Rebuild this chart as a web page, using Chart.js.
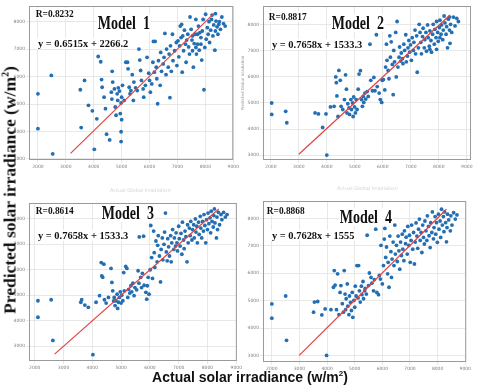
<!DOCTYPE html>
<html>
<head>
<meta charset="utf-8">
<script src="https://cdn.jsdelivr.net/npm/chart.js@4.4.1/dist/chart.umd.min.js"></script>
<style>
  body { margin: 0; background: #fff; }
  #wrap { position: relative; width: 480px; height: 391px; overflow: hidden; background: #fff; }
  canvas { position: absolute; }
  .t { position: absolute; font-family: "Liberation Serif", "Times New Roman", serif; font-weight: bold;
       white-space: nowrap; line-height: 1; color: #111; background: #fff; padding: 0 1px; transform-origin: 0 0; }
  .faint { position: absolute; font-family: "DejaVu Sans", sans-serif; font-size: 5px; color: #d4d4d4; white-space: nowrap; }
</style>
</head>
<body>
<div id="wrap">
  <canvas id="c1"></canvas>
  <canvas id="c2"></canvas>
  <canvas id="c3"></canvas>
  <canvas id="c4"></canvas>

  <div class="t" style="left:35px;top:8px;font-size:11px;transform:scaleX(0.85)">R=0.8232</div>
  <div class="t" style="left:97px;top:14px;font-size:18px;transform:scaleX(0.78)">Model&nbsp; 1</div>
  <div class="t" style="left:37px;top:38px;font-size:11px;transform:scaleX(0.95)">y = 0.6515x + 2266.2</div>

  <div class="t" style="left:268px;top:11px;font-size:11px;transform:scaleX(0.85)">R=0.8817</div>
  <div class="t" style="left:331px;top:14px;font-size:18px;transform:scaleX(0.78)">Model&nbsp; 2</div>
  <div class="t" style="left:271px;top:39px;font-size:11px;transform:scaleX(0.95)">y = 0.7658x + 1533.3</div>

  <div class="t" style="left:35px;top:205px;font-size:11px;transform:scaleX(0.85)">R=0.8614</div>
  <div class="t" style="left:101px;top:204px;font-size:18px;transform:scaleX(0.78)">Model&nbsp; 3</div>
  <div class="t" style="left:37px;top:230px;font-size:11px;transform:scaleX(0.95)">y = 0.7658x + 1533.3</div>

  <div class="t" style="left:266px;top:205px;font-size:11px;transform:scaleX(0.85)">R=0.8868</div>
  <div class="t" style="left:339px;top:208px;font-size:18px;transform:scaleX(0.78)">Model&nbsp; 4</div>
  <div class="t" style="left:271px;top:230px;font-size:11px;transform:scaleX(0.95)">y = 0.7628x + 1555</div>

  <div class="faint" style="left:110px;top:187px">Actual Global Irradiation</div>
  <div class="faint" style="left:337px;top:185px">Actual Global Irradiation</div>

  <div style="position:absolute;left:10px;top:190px;transform:translate(-50%,-50%) rotate(-90deg);
              font-family:'Liberation Serif',serif;font-weight:bold;font-size:17.5px;white-space:nowrap;color:#111">
    Predicted solar irradiance (w/m<sup style="font-size:10px">2</sup>)</div>
  <div style="position:absolute;left:250px;top:377px;transform:translate(-50%,-50%);
              font-family:'Liberation Sans',sans-serif;font-weight:bold;font-size:14px;white-space:nowrap;color:#111">
    Actual solar irradiance (w/m<sup style="font-size:8px">2</sup>)</div>
</div>

<script>
// tick labels on every panel
const xTicks = [2000, 3000, 4000, 5000, 6000, 7000, 8000, 9000];
const yTicks = [3000, 4000, 5000, 6000, 7000, 8000];

// [actual, predicted]
const model1 = [[2000,5370],[2000,4100],[2480,6040],[2530,3180],[3520,5520],[3550,4140],[3670,5860],[3810,4950],[3950,4750],[4020,3350],[4110,4460],[4160,6730],[4250,6540],[4280,5890],[4300,5610],[4370,5250],[4420,4830],[4460,3900],[4570,3690],[4630,5430],[4650,5180],[4660,6190],[4680,5800],[4740,5550],[4770,4890],[4800,4590],[4840,5370],[4860,5130],[4880,5590],[4920,5470],[4950,4650],[4980,5040],[5000,5250],[4980,3990],[4980,3630],[5000,4430],[5030,5680],[5090,5130],[5150,6520],[5210,6520],[5230,6280],[5270,5610],[5300,5370],[5330,5490],[5380,6070],[5420,5130],[5440,5800],[5500,5590],[5560,5490],[5620,7000],[5650,6600],[5680,6220],[5710,5860],[5770,5550],[5790,5250],[5850,5680],[5910,6700],[5970,6120],[6000,5860],[6030,5430],[6080,5730],[6120,6520],[6140,7280],[6170,6160],[6200,7280],[6240,6340],[6260,5920],[6290,5010],[6320,6580],[6380,5680],[6400,6880],[6430,6190],[6490,6460],[6520,6700],[6550,7570],[6590,6070],[6610,7000],[6670,6340],[6700,6820],[6730,5230],[6750,7120],[6780,6190],[6820,7540],[6840,6580],[6900,6940],[6960,7240],[6980,6400],[7020,7300],[7050,6720],[7080,7120],[7100,7840],[7130,7420],[7150,7900],[7170,6160],[7190,7480],[7220,6940],[7250,7690],[7290,7180],[7310,6520],[7330,7330],[7370,7540],[7400,7080],[7430,6820],[7450,8170],[7490,7720],[7520,7330],[7540,6940],[7570,6340],[7600,7200],[7640,7540],[7660,8080],[7680,6820],[7720,7180],[7750,7840],[7780,6960],[7800,7600],[7840,7180],[7870,6600],[7890,7660],[7920,8080],[7950,5520],[7980,7060],[8010,8270],[8030,7360],[8070,7780],[8100,7540],[8130,8000],[8150,7240],[8190,7690],[8220,8080],[8240,8240],[8270,7480],[8300,7880],[8340,6960],[8360,7660],[8380,8020],[8420,7810],[8450,7540],[8480,7900],[8540,7720],[8590,8170],[8650,7930],[8710,7840],[8360,8290],[8500,8000],[7720,7540],[7840,7420],[7540,7480],[7660,7060]];

const model2 = [[2030,5000],[2030,4560],[2530,4680],[2570,4240],[3580,4620],[3700,4580],[3850,4060],[3970,4580],[4000,3000],[4130,4850],[4260,4870],[4320,6000],[4340,5780],[4360,5270],[4400,4480],[4430,6250],[4480,5870],[4510,4870],[4570,4750],[4630,5130],[4670,6080],[4700,5530],[4720,4620],[4750,4970],[4790,4810],[4810,4560],[4860,5130],[4880,4750],[4920,5000],[4940,4480],[4960,5230],[4990,4850],[5020,4620],[5050,5130],[5080,4750],[5120,5530],[5150,6110],[5200,6240],[5240,5130],[5270,4870],[5300,5250],[5320,5020],[5360,5380],[5390,5150],[5440,5440],[5480,5250],[5540,7260],[5570,5870],[5630,5470],[5680,5980],[5720,5470],[5770,7620],[5800,5630],[5870,5380],[5910,5130],[5960,5020],[5980,5870],[6020,5900],[6070,5500],[6100,6380],[6130,7260],[6150,6640],[6190,6250],[6220,5930],[6250,7580],[6270,6760],[6300,7350],[6340,6480],[6370,5320],[6390,7020],[6420,6580],[6460,7710],[6480,6000],[6510,8130],[6540,6380],[6580,6760],[6600,7150],[6640,6610],[6660,6920],[6700,6700],[6720,6510],[6750,7260],[6780,7020],[6820,7620],[6840,6580],[6880,6800],[6900,7120],[6930,7400],[6960,6950],[6990,7230],[7020,6640],[7050,7510],[7090,7020],[7110,7330],[7150,7800],[7170,6890],[7210,7580],[7230,6180],[7270,7120],[7300,8020],[7330,7710],[7360,7330],[7380,6890],[7420,7550],[7440,7870],[7480,7120],[7500,7430],[7540,7710],[7560,6990],[7600,8000],[7620,7510],[7660,7180],[7680,7770],[7720,7400],[7740,6950],[7780,7640],[7800,8020],[7840,7260],[7860,7830],[7900,7510],[7920,8130],[7960,7710],[7980,7370],[8020,7900],[8040,8180],[8080,7640],[8100,8000],[8140,7430],[8160,7800],[8190,8340],[8220,8080],[8260,7640],[8280,7930],[8310,7120],[8340,8220],[8380,7800],[8400,7290],[8420,8020],[8460,7710],[8520,8300],[8580,7960],[8640,8250],[8700,8130],[8380,8300],[8040,7510],[7920,7060],[7680,7060]];

const model3 = [[2110,4780],[2110,4130],[2570,4820],[2630,3220],[3600,4720],[3630,4820],[3740,4610],[3860,4520],[4020,2660],[4130,4720],[4250,4980],[4310,6280],[4330,5760],[4400,6220],[4420,4820],[4360,5700],[4480,4690],[4560,4910],[4650,6050],[4680,5500],[4710,5170],[4740,4770],[4760,4910],[4790,4590],[4820,4780],[4860,5040],[4880,4480],[4910,4720],[4940,4910],[4970,5130],[5000,4690],[5020,5000],[5060,4780],[5090,5890],[5110,5170],[5160,6130],[5200,6050],[5230,4910],[5260,5230],[5300,5080],[5340,5370],[5370,5130],[5410,5470],[5450,4980],[5480,5300],[5540,5210],[5590,5960],[5620,5470],[5680,5700],[5710,5300],[5740,5860],[5780,7320],[5630,7290],[5800,5390],[5860,5110],[5890,4840],[5910,5370],[5940,5700],[5970,5040],[6010,6000],[6030,7740],[6060,6480],[6090,5660],[6130,7520],[6150,6670],[6170,6090],[6210,7130],[6250,6310],[6270,6960],[6290,7340],[6330,6540],[6370,5520],[6390,6800],[6430,7250],[6450,6390],[6490,7000],[6510,7480],[6540,8230],[6570,6700],[6600,6350],[6620,7220],[6650,6900],[6680,6540],[6720,7340],[6740,6310],[6760,7060],[6790,7580],[6830,6800],[6850,7250],[6890,6930],[6910,7450],[6940,7060],[6960,6740],[7000,7710],[7020,7220],[7050,6930],[7080,7430],[7110,6610],[7130,7870],[7170,7170],[7190,6830],[7220,7520],[7250,7300],[7290,6310],[7310,7770],[7330,7060],[7370,7640],[7400,7340],[7420,7900],[7460,7170],[7480,7580],[7520,7770],[7540,7250],[7580,8000],[7600,7480],[7630,7710],[7650,7060],[7690,7870],[7710,7390],[7750,8100],[7770,7640],[7800,7250],[7830,7900],[7860,7520],[7880,8170],[7910,7740],[7940,7060],[7970,7970],[8000,7580],[8020,8230],[8050,7810],[8090,8040],[8110,7450],[8130,8300],[8160,7900],[8200,7680],[8220,8130],[8240,8390],[8260,7840],[8310,7250],[8330,8070],[8350,7580],[8380,8260],[8420,7770],[8470,8170],[8500,7970],[8560,8260],[8620,8070],[8680,8170]];

const model4 = [[2000,4880],[2000,4360],[2500,5170],[2530,3550],[3540,4950],[3510,4580],[3660,4970],[3810,4480],[3930,4700],[3980,3000],[4140,4670],[4230,5490],[4260,6100],[4290,5570],[4340,4670],[4380,5980],[4430,4490],[4470,5300],[4500,5550],[4550,4890],[4590,4580],[4620,6100],[4650,5240],[4670,4670],[4690,5070],[4730,5610],[4750,4800],[4790,4490],[4810,5170],[4850,4940],[4880,4640],[4910,5300],[4930,4390],[4970,5010],[5000,4760],[5020,5530],[5050,5170],[5080,6280],[5120,5100],[5140,6280],[5170,5360],[5200,4950],[5240,5530],[5260,5220],[5300,5700],[5320,5070],[5360,5360],[5380,5450],[5420,5240],[5450,7390],[5500,5550],[5530,6010],[5590,5850],[5620,5640],[5680,5360],[5710,5770],[5760,7610],[5800,5300],[5860,5220],[5890,5920],[5930,5790],[5950,7020],[6000,5610],[6040,6280],[6070,7250],[6090,7640],[6120,6580],[6150,6960],[6190,5980],[6210,6400],[6240,5490],[6270,7360],[6310,6790],[6330,5850],[6350,6520],[6390,7140],[6420,6280],[6450,7760],[6470,6700],[6510,7020],[6540,6430],[6570,7360],[6600,6820],[6630,6150],[6660,7140],[6690,6650],[6720,7430],[6740,6880],[6780,6460],[6800,7550],[6840,7080],[6860,7320],[6900,6700],[6920,7710],[6960,7020],[6980,7390],[7010,6400],[7040,7200],[7060,7760],[7100,6880],[7130,7490],[7160,6340],[7190,7140],[7220,7840],[7250,7360],[7280,6910],[7310,7610],[7340,7980],[7370,7200],[7400,7490],[7430,6760],[7460,7760],[7490,7310],[7520,7070],[7540,7910],[7580,7550],[7610,7200],[7630,8100],[7670,7710],[7690,7370],[7730,6940],[7750,7850],[7790,7490],[7810,8240],[7850,7260],[7870,7670],[7910,8070],[7930,7430],[7960,7850],[7990,7130],[8030,8160],[8050,7610],[8090,7910],[8110,7310],[8140,8340],[8170,7760],[8210,8070],[8230,7520],[8250,8240],[8290,7850],[8320,7150],[8340,7670],[8360,8160],[8400,7950],[8460,7550],[8480,8100],[8520,7760],[8580,8210],[8640,7980],[8700,8130]];

// red fit line end points
const fit1 = [[3170,3200],[8300,8290]];
const fit2 = [[3000,3030],[8400,8380]];
const fit3 = [[2690,2680],[8390,8390]];
const fit4 = [[2990,3000],[8320,8340]];

const YW = 22, XH = 12, PT = 3, PR = 3;

const frame = {
  id: 'frame',
  beforeDatasetsDraw(chart) {
    const a = chart.chartArea, ctx = chart.ctx;
    ctx.save();
    ctx.strokeStyle = '#9a9a9a';
    ctx.lineWidth = 1;
    ctx.strokeRect(a.left + 0.5, a.top + 0.5, a.width - 1, a.height - 1);
    ctx.restore();
  }
};

function panel(id, pts, fit, box, xr, yr, yTitle) {
  const cv = document.getElementById(id);
  const w = box.r - box.l + YW + PR, h = box.b - box.t + PT + XH;
  cv.width = w; cv.height = h;
  cv.style.left = (box.l - YW) + 'px';
  cv.style.top = (box.t - PT) + 'px';
  const tickFont = { family: 'DejaVu Sans', size: 4.5 };
  new Chart(cv, {
    type: 'scatter',
    data: {
      datasets: [
        { type: 'line', data: fit, borderColor: 'rgb(226,66,66)', borderWidth: 1.2,
          pointRadius: 0, fill: false },
        { data: pts, backgroundColor: 'rgb(36,110,178)', borderWidth: 0, pointRadius: 1.9 }
      ]
    },
    options: {
      responsive: false, animation: false, devicePixelRatio: 1,
      layout: { padding: { top: PT, right: PR, left: 0, bottom: 0 } },
      plugins: { legend: { display: false }, tooltip: { enabled: false } },
      scales: {
        x: {
          type: 'linear', min: xr[0], max: xr[1],
          afterBuildTicks: a => { a.ticks = xTicks.map(v => ({ value: v })); },
          afterFit: a => { a.height = XH; },
          ticks: { font: tickFont, color: '#808080', padding: 1, maxRotation: 0, autoSkip: false, callback: v => String(v) },
          grid: { color: '#e2e2e2', lineWidth: 0.8, tickLength: 3 },
          border: { display: false }
        },
        y: {
          type: 'linear', min: yr[0], max: yr[1],
          afterBuildTicks: a => { a.ticks = yTicks.map(v => ({ value: v })); },
          afterFit: a => { a.width = YW; },
          ticks: { font: tickFont, color: '#808080', padding: 1, autoSkip: false, callback: v => String(v) },
          grid: { color: '#e2e2e2', lineWidth: 0.8, tickLength: 3 },
          border: { display: false },
          title: { display: !!yTitle, text: yTitle || '', font: { family: 'DejaVu Sans', size: 4 }, color: '#999', padding: 0 }
        }
      }
    },
    plugins: [frame]
  });
}

panel('c1', model1, fit1, { l: 29, t: 5, r: 237, b: 160 }, [1680, 9000], [2960, 8570]);
panel('c2', model2, fit2, { l: 263, t: 5, r: 472, b: 160 }, [1720, 9150], [2810, 8725], 'Predicted Global Irradiation');
panel('c3', model3, fit3, { l: 29, t: 202, r: 240, b: 361 }, [1800, 9020], [2410, 8625]);
panel('c4', model4, fit4, { l: 263, t: 200, r: 469, b: 362 }, [1680, 9035], [2760, 8640]);
</script>
</body>
</html>
